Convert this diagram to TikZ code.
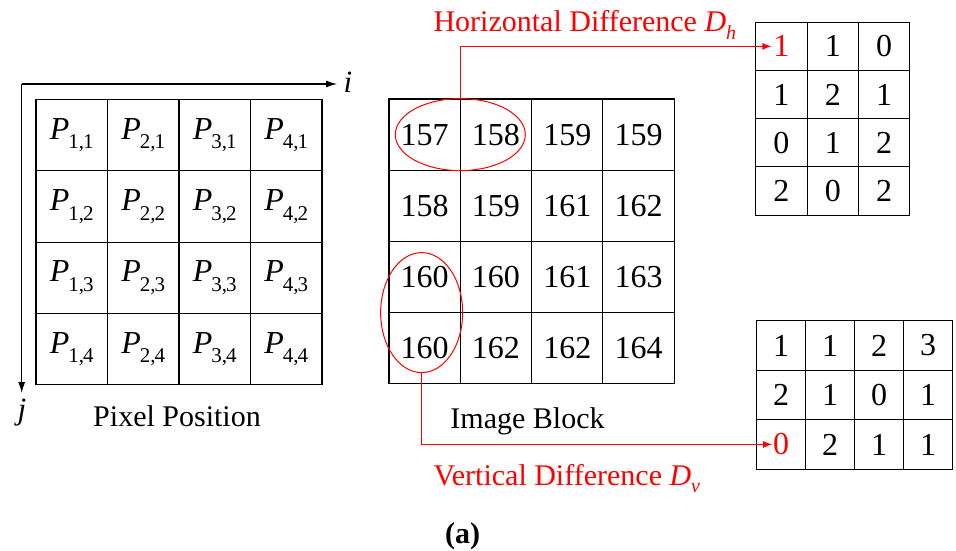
\documentclass[tikz,border=0pt]{standalone}
\usepackage{fontspec}
\setmainfont{Liberation Serif}
\usetikzlibrary{positioning,arrows.meta,shapes.geometric}

\newcommand\cellfont{\fontsize{32}{32}\selectfont}
\newcommand\labfont{\fontsize{30}{30}\selectfont}
\newcommand\pxl[2]{\textit{P}\kern-1pt\raisebox{-0.3em}{\fontsize{21}{21}\selectfont #1,\kern-1pt#2}}
\newcommand\hl[1]{\textcolor{red}{#1}}

\begin{document}
\begin{tikzpicture}[x=1pt,y=1pt,yscale=-1,xscale=1,
    cell/.style={draw, line width=1.1pt, inner sep=0pt, outer sep=0pt, font=\cellfont},
    ring/.style={draw=red, line width=1pt, ellipse, inner sep=0pt},
    link/.style={draw=red, line width=1.1pt, -{Latex[length=9pt,width=7pt]}},
    axis/.style={line width=1.1pt, -{Latex[length=11pt,width=7pt]}},
  ]
  \useasboundingbox (0,0) rectangle (956,551);

  % pixel positions
  \foreach \r in {1,...,4}
    \foreach \c in {1,...,4}
      \node[cell, minimum width=71.5pt, minimum height=71.3pt] (pos-\r-\c)
        at ({36+(\c-0.5)*71.5},{99.5+(\r-0.5)*71.3}) {\pxl{\c}{\r}};
  \coordinate (org) at (21.7,84);
  \coordinate (iend) at (337,84);
  \coordinate (jend) at (21.7,393);
  \draw[axis] (org) -- (iend);
  \draw[axis] (org) -- (jend);
  \node[font=\fontsize{31}{31}\selectfont\itshape] (labi) at (348,82) {i};
  \node[font=\fontsize{31}{31}\selectfont\itshape] (labj) at (22,413) {j};
  \node[font=\labfont, anchor=base] (pospos) at (177,426.7) {Pixel Position};

  % image block
  \foreach \row [count=\r] in {{157,158,159,159},{158,159,161,162},{160,160,161,163},{160,162,162,164}}
    \foreach \v [count=\c] in \row
      \node[cell, minimum width=71.3pt, minimum height=71.2pt] (blk-\r-\c)
        at ({389+(\c-0.5)*71.3},{99+(\r-0.5)*71.2}) {\v};
  \node[font=\labfont, anchor=base] (blkname) at (527.5,428.3) {Image Block};

  % horizontal difference
  \foreach \row [count=\r] in {{\hl{1},1,0},{1,2,1},{0,1,2},{2,0,2}}
    \foreach \v [count=\c] in \row
      \node[cell, minimum width=51.4pt, minimum height=48.2pt] (dh-\r-\c)
        at ({755.7+(\c-0.5)*51.4},{22.3+(\r-0.5)*48.2}) {\v};

  % vertical difference
  \foreach \row [count=\r] in {{1,1,2,3},{2,1,0,1},{\hl{0},2,1,1}}
    \foreach \v [count=\c] in \row
      \node[cell, minimum width=49pt, minimum height=49.5pt] (dv-\r-\c)
        at ({756.7+(\c-0.5)*49},{320.7+(\r-0.5)*49.5}) {\v};

  \node[ring, minimum width=130pt, minimum height=72pt] (ringh) at (blk-1-1.east) {};
  \node[ring, minimum width=82pt, minimum height=120pt] (ringv) at ([xshift=-3pt]blk-3-1.south) {};

  \draw[link] (ringh.north) |- ([xshift=-10pt]dh-1-1.center);
  \draw[link] (ringv.south) |- ([xshift=-9pt]dv-3-1.center);

  \node[font=\labfont, text=red, anchor=base west] (hname) at (430,32)
    {Horizontal Difference \textit{D}\raisebox{-0.25em}{\fontsize{20}{20}\selectfont\itshape h}};
  \node[font=\labfont, text=red, anchor=base west] (vname) at (430,485)
    {Vertical Difference \textit{D}\raisebox{-0.25em}{\fontsize{20}{20}\selectfont\itshape v}};

  \node[font=\fontsize{30}{30}\selectfont\bfseries, anchor=base] (cap) at (462.5,543) {(a)};
\end{tikzpicture}
\end{document}
